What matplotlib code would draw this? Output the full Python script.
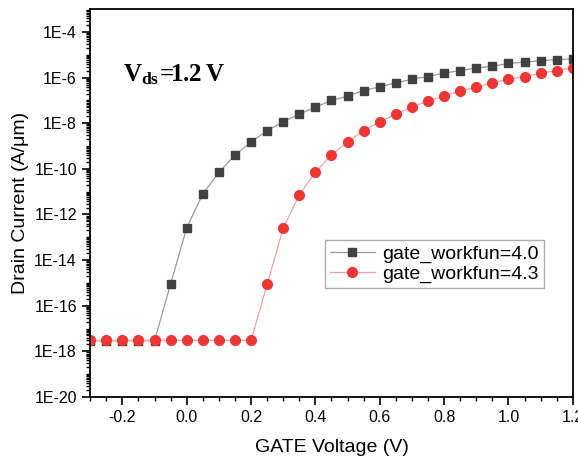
import numpy as np
import matplotlib.pyplot as plt
from matplotlib.ticker import FixedLocator, NullFormatter, MultipleLocator

plt.rcParams['font.family'] = ['Liberation Sans', 'DejaVu Sans']
plt.rcParams['mathtext.fontset'] = 'custom'
plt.rcParams['mathtext.rm'] = 'Liberation Serif'
plt.rcParams['mathtext.bf'] = 'Liberation Serif:bold'

# gate voltage (V)
vg = [-0.3, -0.25, -0.2, -0.15, -0.1, -0.05, 0.0, 0.05, 0.1, 0.15, 0.2,
      0.25, 0.3, 0.35, 0.4, 0.45, 0.5, 0.55, 0.6, 0.65, 0.7, 0.75, 0.8,
      0.85, 0.9, 0.95, 1.0, 1.05, 1.1, 1.15, 1.2]

# drain current (A/um), workfunction 4.0
id_40 = [2.9e-18, 2.9e-18, 2.9e-18, 2.9e-18, 2.9e-18, 9.0e-16, 2.6e-13, 8.0e-12,
         7.0e-11, 4.0e-10, 1.5e-9, 4.7e-9, 1.17e-8, 2.5e-8, 5.1e-8, 1.0e-7,
         1.55e-7, 2.7e-7, 4.0e-7, 5.9e-7, 8.5e-7, 1.12e-6, 1.58e-6, 2.04e-6,
         2.63e-6, 3.16e-6, 4.17e-6, 4.79e-6, 5.5e-6, 6.17e-6, 6.6e-6]

# drain current (A/um), workfunction 4.3
id_43 = [3.0e-18, 3.0e-18, 3.0e-18, 3.0e-18, 3.0e-18, 3.0e-18, 3.0e-18, 3.0e-18,
         3.0e-18, 3.0e-18, 3.0e-18, 8.7e-16, 2.5e-13, 7.2e-12, 7.1e-11, 4.1e-10,
         1.48e-9, 4.7e-9, 1.15e-8, 2.5e-8, 5.1e-8, 9.5e-8, 1.55e-7, 2.57e-7,
         3.8e-7, 5.9e-7, 8.5e-7, 1.12e-6, 1.58e-6, 2.04e-6, 2.63e-6]

fig = plt.figure(figsize=(5.78, 4.61), dpi=100)
ax = fig.add_axes([0.156, 0.139, 0.835, 0.841])

ax.plot(vg, id_40, color='#9a9a9a', lw=0.9, marker='s', ms=6,
        mfc='#404040', mec='#404040', label='gate_workfun=4.0')
ax.plot(vg, id_43, color='#f4a0a0', lw=0.9, marker='o', ms=7,
        mfc='#f03535', mec='#f03535', label='gate_workfun=4.3')

ax.set_yscale('log')
ax.set_xlim(-0.3, 1.2)
ax.set_ylim(1e-20, 1e-3)

majors = [10.0 ** e for e in range(-20, -3, 2)]
ax.yaxis.set_major_locator(FixedLocator(majors))
ax.set_yticklabels(['1E%d' % e for e in range(-20, -3, 2)])
minors = [m * 10.0 ** e for e in range(-20, -3) for m in range(1, 10)
          if not (m == 1 and e % 2 == 0)]
ax.yaxis.set_minor_locator(FixedLocator(minors))
ax.yaxis.set_minor_formatter(NullFormatter())

ax.xaxis.set_minor_locator(MultipleLocator(0.05))
ax.set_xticks(np.arange(-0.2, 1.21, 0.2))
ax.set_xticklabels(['-0.2', '0.0', '0.2', '0.4', '0.6', '0.8', '1.0', '1.2'])

ax.tick_params(which='major', direction='out', length=6, width=1.2, labelsize=11.5)
ax.tick_params(which='minor', direction='out', length=3, width=1)
for s in ax.spines.values():
    s.set_linewidth(1.3)

ax.set_xlabel('GATE Voltage (V)', fontsize=14, labelpad=10)
ax.set_ylabel('Drain Current (A/\u03bcm)', fontsize=14, labelpad=4)

ax.text(0.068, 0.815, r'$\mathbf{V_{ds}\!=\!\!1.2\,V}$', transform=ax.transAxes,
        fontsize=18, va='baseline')

leg = ax.legend(loc='upper right', bbox_to_anchor=(0.94, 0.405), fontsize=14,
                fancybox=False, edgecolor='#999999', handlelength=2.3,
                borderpad=0.25, labelspacing=0.15, handletextpad=0.4,
                borderaxespad=0)
leg.get_frame().set_linewidth(1.0)

fig.savefig('out.png', dpi=100)
